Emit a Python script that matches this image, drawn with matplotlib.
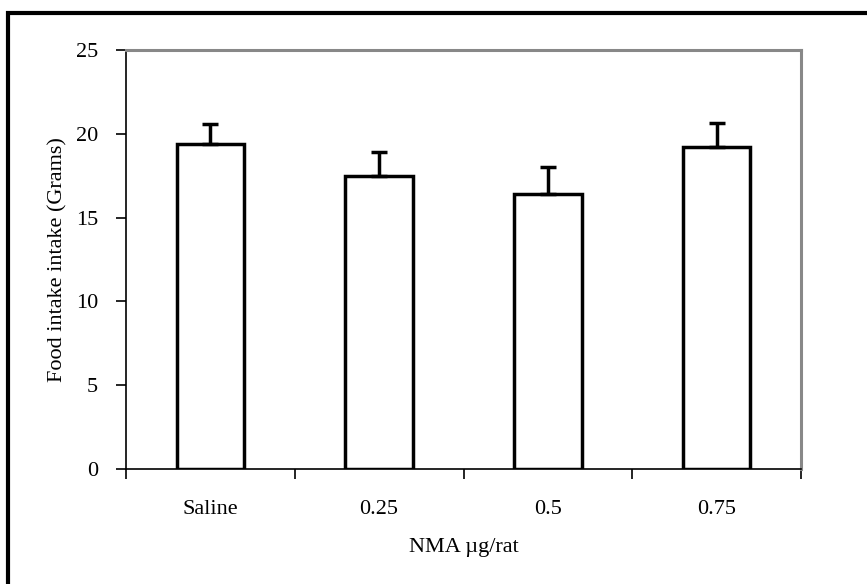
import numpy as np
import matplotlib
matplotlib.use("Agg")
import matplotlib.pyplot as plt
from matplotlib.patches import Rectangle

# data
groups = ["Saline", "0.25", "0.5", "0.75"]
intake = [19.4, 17.5, 16.4, 19.2]
sem = [1.2, 1.4, 1.6, 1.45]
yticks = [0, 5, 10, 15, 20, 25]

plt.rcParams['font.family'] = ['Liberation Serif', 'DejaVu Serif']
plt.rcParams['font.size'] = 16

fig = plt.figure(figsize=(8.67, 5.84), dpi=100)
ax = fig.add_axes([126/867, 1-469/584, (801-126)/867, (469-50)/584])

x = np.arange(len(groups))
ax.bar(x, intake, width=0.4, color='white', edgecolor='black', linewidth=2.5, zorder=2)
ax.errorbar(x, intake, yerr=[np.zeros(len(sem)), sem], fmt='none', ecolor='black',
            elinewidth=2.5, capsize=6, capthick=2.5, zorder=3)

ax.set_xlim(-0.5, len(groups) - 0.5)
ax.set_ylim(0, 25)
ax.set_yticks(yticks)
ax.set_xticks(x)
ax.set_xticklabels(groups, fontsize=16)
ax.set_yticklabels([str(v) for v in yticks], fontsize=16)
ax.set_xticks(np.arange(-0.5, len(groups)), minor=True)
ax.tick_params(axis='x', which='major', length=0, pad=22)
ax.tick_params(axis='x', which='minor', length=7, width=1.2, direction='out')
ax.tick_params(axis='y', length=7, width=1.2, direction='out', pad=13)

for s in ['left', 'bottom']:
    ax.spines[s].set_color('black')
    ax.spines[s].set_linewidth(1.2)
for s in ['top', 'right']:
    ax.spines[s].set_color('#888888')
    ax.spines[s].set_linewidth(2.2)

ax.set_xlabel("NMA µg/rat", fontsize=16, labelpad=14)
ax.set_ylabel("Food intake intake (Grams)", fontsize=16, labelpad=6)

# outer frame (right and bottom edges fall outside the image)
fig.patches.append(Rectangle((7.5/867, -0.1), 1.2, 1 - 13/584 + 0.1, transform=fig.transFigure,
                             fill=False, edgecolor='black', linewidth=3, clip_on=False))

fig.savefig("out.png", dpi=100)
